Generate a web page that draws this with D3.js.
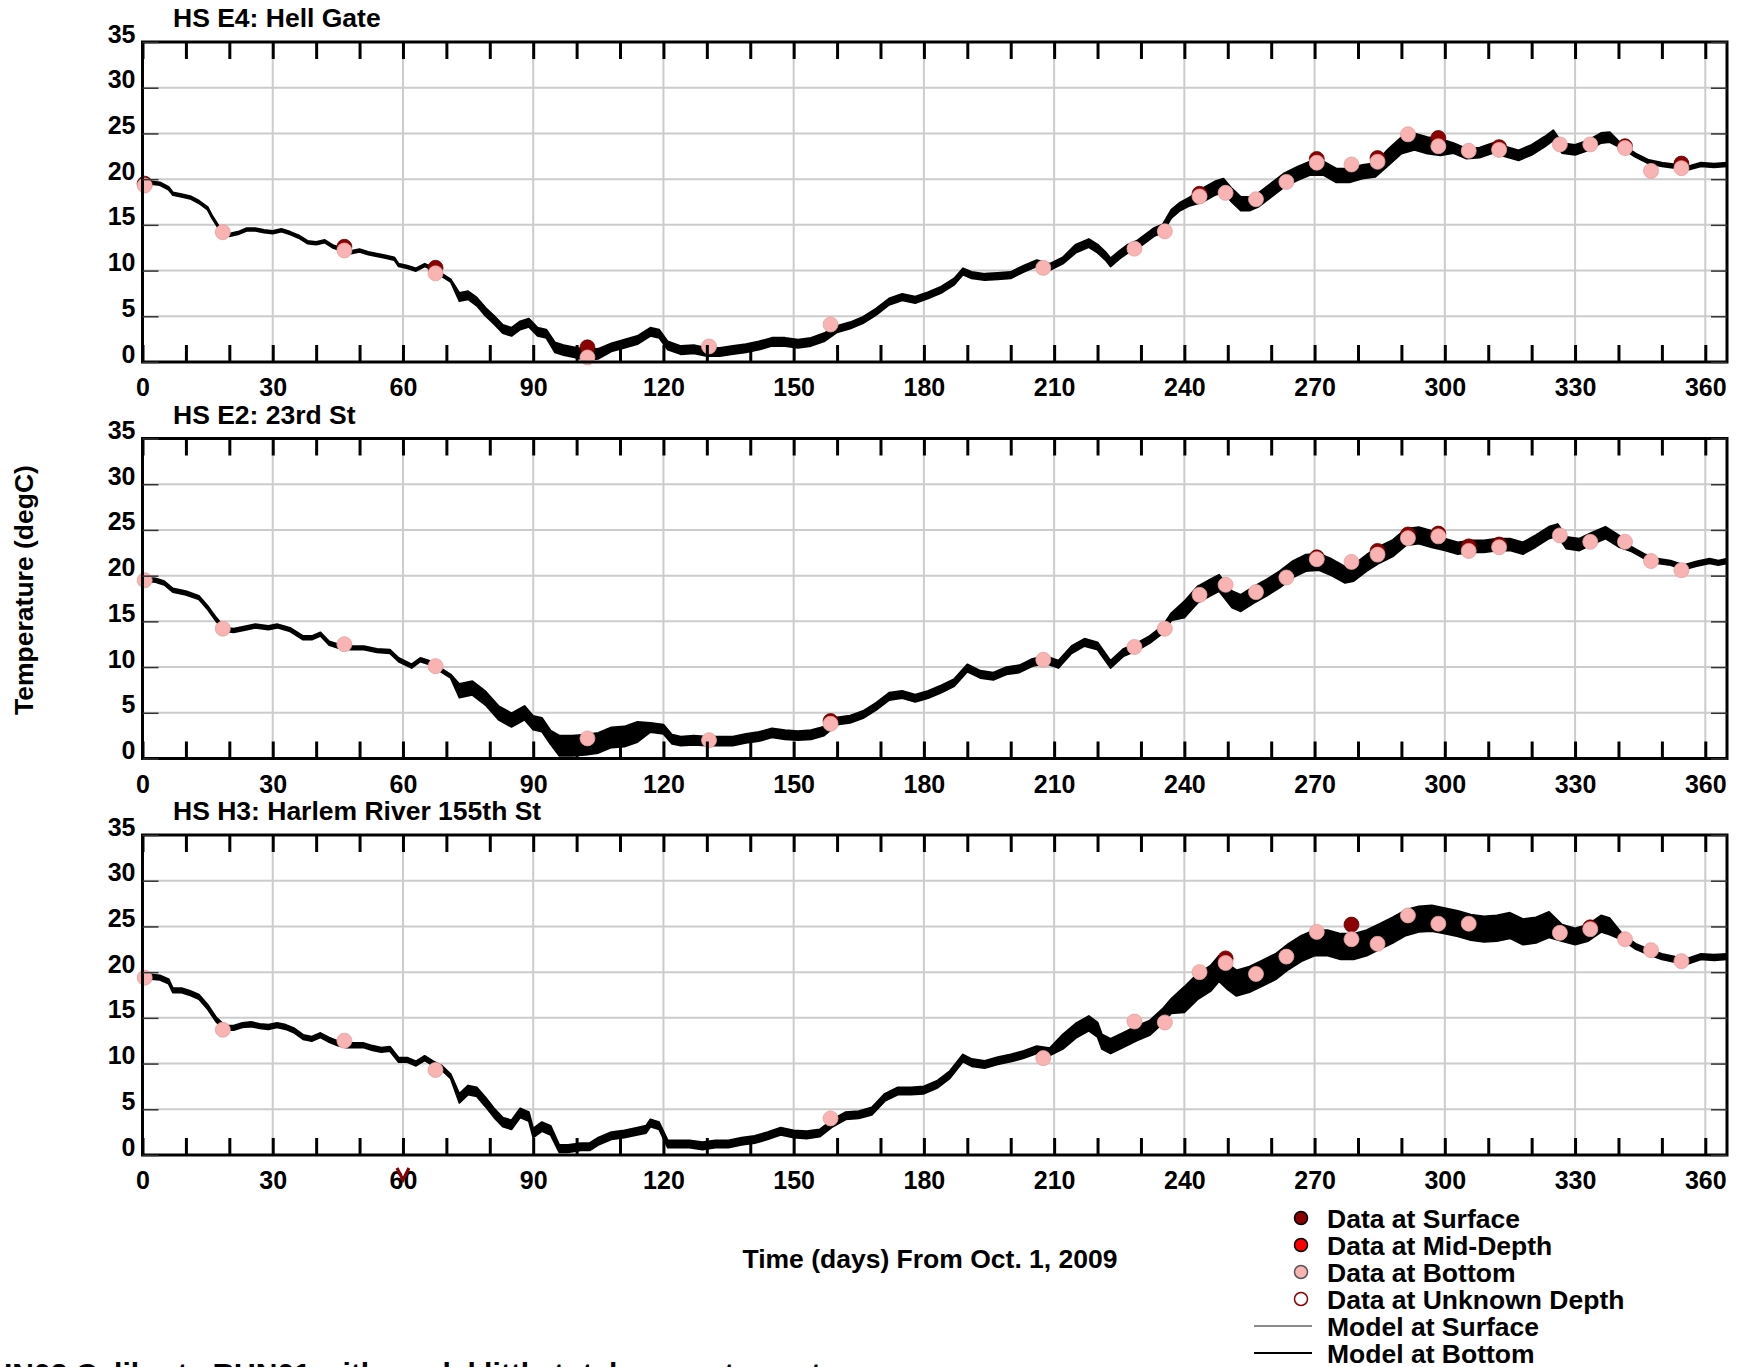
<!DOCTYPE html>
<html><head><meta charset="utf-8">
<script src="https://cdn.jsdelivr.net/npm/d3@7"></script>
<style>
body{margin:0;background:#fff}
text{font-family:"Liberation Sans",Arial,Helvetica,sans-serif;font-weight:bold;fill:#000}
</style>
</head><body>
<svg id="chart" width="1741" height="1367"></svg>
<script>
// ---------------- DATA ----------------
const stationTitles = ["HS E4: Hell Gate", "HS E2: 23rd St", "HS H3: Harlem River 155th St"];
const xTickLabels = [0, 30, 60, 90, 120, 150, 180, 210, 240, 270, 300, 330, 360];
const yTickLabels = [0, 5, 10, 15, 20, 25, 30, 35];
const xMinorTicks = d3.range(0, 361, 10);

// Model (bottom) temperature, station E4
const e4Days = [0,2,4,6,7,9,11,13,15,16,18,20,22,24,26,28,30,32,34,36,38,40,42,44,46,48,50,52,54,56,58,59,61,63,65,67,69,71,73,75,77,79,81,83,85,87,89,91,93,95,97,99,101,103,105,108,111,114,117,119,121,124,127,130,133,136,139,142,145,148,151,154,157,160,163,166,169,172,175,178,181,184,187,189,191,194,197,200,203,206,209,212,215,218,220,222,223,225,227,229,231,233,235,237,239,241,244,247,249,251,253,255,257,260,263,266,269,272,275,278,281,284,287,290,293,296,299,302,305,308,311,314,317,320,323,325,327,330,333,336,338,341,344,347,350,353,356,359,362,365];
const e4Temp = [19.6,19.6,19.5,19.0,18.4,18.2,18.0,17.5,16.8,15.9,14.4,13.9,14.1,14.5,14.5,14.3,14.2,14.4,14.1,13.7,13.1,13.0,13.2,12.6,12.3,12.0,12.2,11.9,11.7,11.5,11.3,10.6,10.4,10.1,10.6,10.2,9.5,8.9,7.1,7.3,6.6,5.5,4.6,3.6,3.3,4.0,4.3,3.3,3.1,1.6,1.3,1.1,0.9,0.8,0.9,1.6,2.0,2.4,3.3,3.1,1.8,1.3,1.4,1.1,1.1,1.3,1.5,1.8,2.2,2.2,2.0,2.2,2.7,3.6,4.0,4.6,5.5,6.6,7.1,6.8,7.3,7.9,8.8,9.9,9.5,9.3,9.4,9.5,10.2,10.8,10.4,11.1,12.4,13.0,12.4,11.5,10.9,11.7,12.4,12.8,13.5,14.2,14.6,16.2,17.0,17.5,18.2,19.0,19.3,18.2,17.3,17.3,17.7,18.8,19.9,20.6,21.2,21.2,20.4,20.4,20.8,21.0,22.4,23.7,24.1,23.7,23.5,23.4,22.8,22.9,23.4,23.0,22.6,23.2,24.1,24.8,23.4,23.2,23.7,24.5,24.6,23.5,22.6,21.9,21.6,21.4,21.2,21.6,21.5,21.6];
// tidal band half-width (degC) between day breakpoints
const e4BandEdges = [72, 95, 106, 159, 214, 242, 286, 300, 340];
const e4BandHalf = [0.15, 0.45, 0.55, 0.45, 0.35, 0.45, 0.75, 0.9, 0.55, 0.2];

// Model (bottom) temperature, station E2
const e2Days = [0,3,5,7,10,13,15,17,19,21,23,26,29,31,34,37,39,41,43,45,48,51,54,57,59,62,64,66,69,71,73,76,79,82,85,88,90,92,94,96,99,102,105,108,111,114,117,120,122,124,127,130,133,136,139,142,145,148,151,154,157,160,163,166,169,172,175,178,181,184,187,190,193,196,199,202,205,208,211,214,217,220,223,226,229,232,235,237,240,243,246,248,251,253,256,259,262,265,268,271,274,277,279,282,285,288,291,294,297,300,303,306,309,312,315,318,321,324,326,328,331,334,337,340,343,346,349,352,355,358,361,363,365];
const e2Temp = [19.6,19.5,19.2,18.4,18.1,17.6,16.5,15.2,14.1,14.0,14.2,14.5,14.3,14.5,14.1,13.2,13.2,13.6,12.6,12.3,12.1,12.1,11.8,11.7,10.8,10.1,10.8,10.5,9.6,9.0,7.4,7.7,6.6,5.0,4.2,5.0,3.9,3.7,2.3,1.4,1.4,1.5,1.7,2.3,2.4,2.9,3.4,3.2,2.1,1.9,2.0,1.9,1.9,1.9,2.2,2.4,2.8,2.6,2.5,2.6,3.0,4.1,4.3,4.8,5.7,6.8,7.0,6.6,7.0,7.6,8.3,9.9,9.2,9.0,9.6,9.8,10.5,10.8,10.3,11.9,12.7,12.3,10.3,11.6,12.2,13.0,14.1,15.5,16.3,17.9,18.7,19.2,17.4,17.0,17.9,18.7,19.6,20.7,21.4,21.5,20.9,20.1,20.3,21.4,22.3,23.0,24.2,24.4,24.0,23.4,23.0,23.2,23.2,23.4,23.4,23.0,23.8,24.7,25.0,23.6,23.4,24.1,24.7,23.8,22.9,22.1,21.6,21.4,20.9,21.3,21.6,21.4,21.6];
const e2BandEdges = [72, 95, 117, 160, 240, 300, 341];
const e2BandHalf = [0.2, 0.75, 1.1, 0.5, 0.4, 0.9, 0.65, 0.25];

// Model (bottom) temperature, station H3
const h3Days = [0,2,4,6,7,9,11,13,15,17,19,21,23,25,27,29,31,33,35,37,39,41,43,45,47,49,51,53,55,57,59,61,63,65,67,69,71,73,75,77,79,81,83,85,87,89,90,92,94,96,98,101,103,105,108,111,114,116,117,119,121,123,126,129,132,135,138,141,144,147,150,153,156,159,162,165,168,171,174,177,180,183,186,189,191,194,197,200,203,206,209,212,215,218,220,221,223,226,229,232,235,237,240,243,246,248,250,252,255,258,261,264,267,270,273,276,279,282,285,288,291,294,297,300,303,306,309,312,315,318,321,324,327,330,333,336,338,341,344,347,350,353,356,359,362,365];
const h3Temp = [19.5,19.5,19.4,19.0,18.0,18.0,17.7,17.3,16.2,14.8,13.9,13.9,14.2,14.3,14.1,14.0,14.2,14.0,13.6,12.9,12.7,13.1,12.6,12.2,12.0,12.0,12.0,11.7,11.5,11.6,10.4,10.4,10.0,10.6,10.0,9.5,8.6,6.2,7.1,6.9,5.8,4.6,3.6,3.3,4.6,4.2,2.4,3.1,2.7,0.7,0.7,0.9,0.9,1.5,2.1,2.3,2.6,2.8,3.5,3.2,1.2,1.2,1.2,1.0,1.2,1.2,1.5,1.7,2.1,2.6,2.3,2.2,2.4,3.5,4.3,4.4,4.8,6.3,7.0,7.0,7.1,7.7,8.8,10.6,10.1,9.9,10.3,10.6,11.0,11.5,11.3,12.4,13.6,14.4,13.7,12.4,11.9,12.6,13.3,13.9,15.2,16.3,17.0,18.4,19.3,20.4,19.5,18.8,19.2,19.9,20.6,21.7,22.6,23.2,23.2,22.8,22.8,23.2,23.9,24.6,25.4,25.8,25.9,25.6,25.3,24.9,24.7,24.8,25.1,24.4,24.6,25.2,24.3,23.9,24.3,25.3,25.0,23.8,22.8,22.2,21.7,21.4,21.2,21.7,21.6,21.7];
const h3BandEdges = [72, 95, 160, 212, 240, 327, 341];
const h3BandHalf = [0.25, 0.5, 0.4, 0.4, 0.8, 1.4, 0.9, 0.3];

// Observed data (days shared by all stations; null = no sample)
const obsDays = [0.5,18.5,46.5,67.5,102.5,130.5,158.5,207.5,228.5,235.5,243.5,249.5,256.5,263.5,270.5,278.5,284.5,291.5,298.5,305.5,312.5,326.5,333.5,341.5,347.5,354.5];
const e4Bottom  = [19.3,14.2,12.2,9.7,0.5,1.7,4.1,10.3,12.4,14.3,18.1,18.5,17.8,19.7,21.8,21.6,21.9,24.9,23.6,23.1,23.2,23.8,23.8,23.4,20.9,21.2];
const e4Surface = [19.5,null,12.6,10.3,1.6,null,null,null,null,null,18.4,null,null,null,22.2,null,22.3,null,24.5,null,23.5,null,null,23.6,null,21.7];
const e2Bottom  = [19.5,14.2,12.5,10.1,2.2,2.0,3.8,10.8,12.2,14.2,17.9,19.0,18.2,19.8,21.8,21.5,22.3,24.1,24.3,22.7,23.1,24.4,23.7,23.7,21.6,20.6];
const e2Surface = [null,null,null,null,null,null,4.1,null,null,null,null,null,null,null,22.0,null,22.7,24.5,24.6,23.2,23.4,null,null,null,null,null];
const h3Bottom  = [19.4,13.7,12.5,9.3,null,null,4.0,10.6,14.6,14.5,20.0,21.0,19.8,21.7,24.4,23.6,23.1,26.2,25.3,25.3,null,24.3,24.7,23.6,22.4,21.2];
const h3Surface = [null,null,null,null,null,null,null,null,null,null,null,21.5,null,null,null,25.2,null,null,null,null,null,null,24.9,null,null,null];

const legendLabels = ["Data at Surface","Data at Mid-Depth","Data at Bottom","Data at Unknown Depth","Model at Surface","Model at Bottom"];

// ---------------- LAYOUT ----------------
const svg = d3.select("#chart");
svg.append("rect").attr("width",1741).attr("height",1367).attr("fill","#fff");
const PANEL_TOP = 42, PANEL_STEP = 396.5, PANEL_H = 320;
const x = d3.scaleLinear().domain([0,365]).range([142.5,1727]);
const C_SURF = "#8b0000", C_MID = "#ff0000", C_BOT = "#f9b3b3";
const TICK_FS = 25, TITLE_FS = 26.5, LABEL_FS = 26.5;

const panels = [
  {title: stationTitles[0], days: e4Days, temp: e4Temp, edges: e4BandEdges, half: e4BandHalf, bottom: e4Bottom, surface: e4Surface},
  {title: stationTitles[1], days: e2Days, temp: e2Temp, edges: e2BandEdges, half: e2BandHalf, bottom: e2Bottom, surface: e2Surface},
  {title: stationTitles[2], days: h3Days, temp: h3Temp, edges: h3BandEdges, half: h3BandHalf, bottom: h3Bottom, surface: h3Surface}
];

panels.forEach((p,i)=>{
  const top = PANEL_TOP + i*PANEL_STEP, bot = top + PANEL_H;
  const y = d3.scaleLinear().domain([0,35]).range([bot, top]);
  const g = svg.append("g");

  // grid
  g.append("g").selectAll("line").data(xTickLabels).join("line")
    .attr("x1",d=>x(d)).attr("x2",d=>x(d)).attr("y1",top).attr("y2",bot)
    .attr("stroke","#cccccc").attr("stroke-width",2);
  g.append("g").selectAll("line").data(yTickLabels.slice(1,-1)).join("line")
    .attr("x1",x(0)).attr("x2",x(365)).attr("y1",d=>y(d)).attr("y2",d=>y(d))
    .attr("stroke","#cccccc").attr("stroke-width",2);

  // model
  const pts = p.days.map((d,j)=>({d:d, t:p.temp[j], h:p.half[d3.bisectRight(p.edges,d)]}));
  g.append("path").datum(pts)
    .attr("d", d3.line().x(d=>x(d.d)).y(d=>y(d.t)))
    .attr("fill","none").attr("stroke","#888").attr("stroke-width",1.5);
  g.append("path").datum(pts)
    .attr("d", d3.area().x(d=>x(d.d)).y0(d=>y(d.t-d.h)).y1(d=>y(d.t+d.h)))
    .attr("fill","#000").attr("stroke","#000").attr("stroke-width",1.8).attr("stroke-linejoin","round");

  // observations: surface beneath, bottom on top
  const surf = obsDays.map((d,j)=>({d:d, v:p.surface[j]})).filter(o=>o.v!=null);
  const botm = obsDays.map((d,j)=>({d:d, v:p.bottom[j]})).filter(o=>o.v!=null);
  g.append("g").selectAll("circle").data(surf).join("circle")
    .attr("cx",d=>x(d.d)).attr("cy",d=>y(d.v)).attr("r",7.5)
    .attr("fill",C_SURF).attr("stroke","#600").attr("stroke-width",0.8);
  g.append("g").selectAll("circle").data(botm).join("circle")
    .attr("cx",d=>x(d.d)).attr("cy",d=>y(d.v)).attr("r",7.5)
    .attr("fill",C_BOT).attr("stroke","#e6a0a0").attr("stroke-width",0.8);

  // frame
  g.append("rect").attr("x",x(0)).attr("y",top).attr("width",x(365)-x(0)).attr("height",PANEL_H)
    .attr("fill","none").attr("stroke","#000").attr("stroke-width",3);

  // x tick marks (inward, top and bottom)
  const axB = g.append("g").attr("transform",`translate(0,${bot})`)
    .call(d3.axisBottom(x).tickValues(xMinorTicks).tickSize(-17).tickFormat(""));
  const axT = g.append("g").attr("transform",`translate(0,${top})`)
    .call(d3.axisTop(x).tickValues(xMinorTicks).tickSize(-17).tickFormat(""));
  [axB,axT].forEach(a=>{a.select(".domain").remove(); a.selectAll("line").attr("stroke","#000").attr("stroke-width",3);});

  // x labels
  const axL = g.append("g").attr("transform",`translate(0,${bot})`)
    .call(d3.axisBottom(x).tickValues(xTickLabels).tickSize(0).tickPadding(0));
  axL.select(".domain").remove();
  axL.selectAll("text").attr("y",34).attr("dy","0").attr("font-size",TICK_FS).attr("fill","#000");

  // y ticks (inward, left with labels, right without)
  const ayL = g.append("g").attr("transform",`translate(${x(0)},0)`)
    .call(d3.axisLeft(y).tickValues(yTickLabels).tickSize(-16).tickPadding(7));
  ayL.select(".domain").remove();
  ayL.selectAll("line").attr("stroke","#333").attr("stroke-width",1.5);
  ayL.selectAll("text").attr("dy","0").attr("font-size",TICK_FS).attr("fill","#000");
  const ayR = g.append("g").attr("transform",`translate(${x(365)},0)`)
    .call(d3.axisRight(y).tickValues(yTickLabels).tickSize(-16).tickFormat(""));
  ayR.select(".domain").remove();
  ayR.selectAll("line").attr("stroke","#333").attr("stroke-width",1.5);

  // title
  g.append("text").attr("x",173).attr("y",top-15).attr("font-size",TITLE_FS).text(p.title);
});

// red "v" marker under the lower panel at day 60
const vx = x(60), vy = 1180;
svg.append("path")
  .attr("d", d3.line()([[vx-6, vy-12],[vx, vy],[vx+6, vy-12]]))
  .attr("fill","none").attr("stroke",C_SURF).attr("stroke-width",3.2);

// axis titles
svg.append("text").attr("transform","translate(33,590) rotate(-90)").attr("text-anchor","middle")
  .attr("font-size",LABEL_FS).text("Temperature (degC)");
svg.append("text").attr("x",930).attr("y",1268).attr("text-anchor","middle")
  .attr("font-size",LABEL_FS).text("Time (days) From Oct. 1, 2009");

// legend
const LX = 1301, LT = 1218, LS = 27;
const lg = svg.append("g");
const legendMarks = [
  {type:"c", fill:C_SURF, stroke:"#000"},
  {type:"c", fill:C_MID, stroke:"#000"},
  {type:"c", fill:C_BOT, stroke:"#555"},
  {type:"c", fill:"#fff", stroke:C_SURF},
  {type:"l", stroke:"#8a8a8a"},
  {type:"l", stroke:"#000"}
];
legendLabels.forEach((lab,k)=>{
  const cy = LT + k*LS;
  const m = legendMarks[k];
  if(m.type==="c"){
    lg.append("circle").attr("cx",LX).attr("cy",cy).attr("r",6.5).attr("fill",m.fill).attr("stroke",m.stroke).attr("stroke-width",1.5);
  } else {
    lg.append("line").attr("x1",1254).attr("x2",1312).attr("y1",cy).attr("y2",cy).attr("stroke",m.stroke).attr("stroke-width",2);
  }
  lg.append("text").attr("x",1327).attr("y",cy+9.5).attr("font-size",LABEL_FS).text(lab);
});

// run caption (clipped at bottom edge, as in the original)
svg.append("text").attr("x",4).attr("y",1384).attr("font-size",30)
  .text("IN02 Calibrate RUN01 with model little total as west coast");
</script>
</body></html>
